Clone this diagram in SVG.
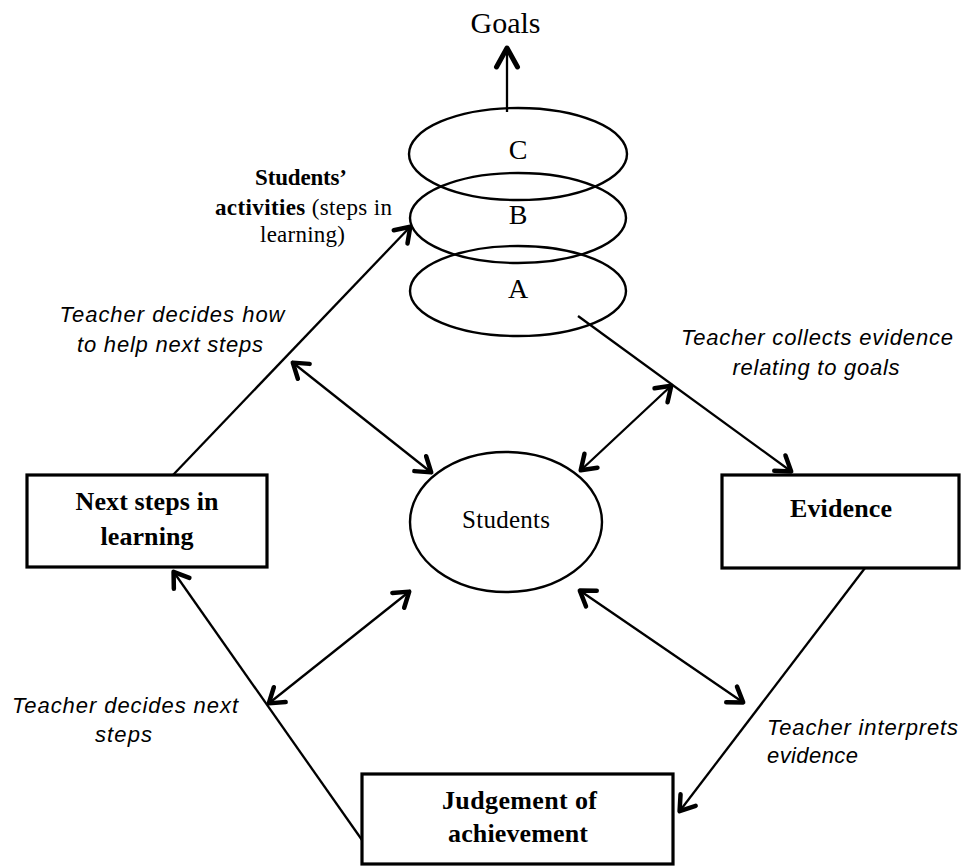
<svg xmlns="http://www.w3.org/2000/svg" width="962" height="866" viewBox="0 0 962 866">
  <style>
    .serif { font-family: "Liberation Serif", "Times New Roman", serif; fill: #000; }
    .bold { font-weight: bold; }
    .note { font-family: "Liberation Sans", Arial, sans-serif; font-style: italic; font-size: 22px; fill: #000; }
    .box { fill: #fff; stroke: #000; stroke-width: 3.2; }
    .ring { fill: none; stroke: #000; stroke-width: 2.4; }
    .flow { fill: none; stroke: #000; stroke-width: 2.3; }
    .one { marker-end: url(#head); }
    .two { marker-start: url(#head); marker-end: url(#head); }
    .up { marker-end: url(#bighead); }
  </style>
  <defs>
    <marker id="head" markerUnits="userSpaceOnUse" viewBox="-20 -15 30 30" markerWidth="30" markerHeight="30" refX="1" refY="0" orient="auto-start-reverse" overflow="visible">
      <path d="M -14 -9.5 L 0 0 L -14 9.5" fill="none" stroke="#000" stroke-width="4.5" stroke-linecap="round" stroke-linejoin="round"/>
    </marker>
    <marker id="bighead" markerUnits="userSpaceOnUse" viewBox="-30 -15 40 30" markerWidth="40" markerHeight="30" refX="1" refY="0" orient="auto" overflow="visible">
      <path d="M -19 -10.5 L 0 0 L -19 10.5" fill="none" stroke="#000" stroke-width="5" stroke-linecap="round" stroke-linejoin="round"/>
    </marker>
  </defs>
  <rect width="962" height="866" fill="#fff"/>

  <!-- connectors -->
  <g id="connectors">
    <line class="flow up" x1="507" y1="112" x2="507" y2="47" stroke-width="3.2"/>
    <line class="flow one" x1="173" y1="475" x2="411" y2="226"/>
    <line class="flow one" x1="578" y1="316" x2="792" y2="472"/>
    <line class="flow one" x1="865" y1="568" x2="679" y2="812"/>
    <line class="flow one" x1="362" y1="840" x2="173" y2="571"/>
    <line class="flow two" x1="292" y1="362" x2="432" y2="473"/>
    <line class="flow two" x1="672" y1="385" x2="580" y2="471"/>
    <line class="flow two" x1="410" y1="591" x2="268" y2="704"/>
    <line class="flow two" x1="579" y1="590" x2="744" y2="703"/>
  </g>

  <!-- goal stack -->
  <g id="goals">
    <text class="serif" x="505.5" y="33" font-size="30" text-anchor="middle">Goals</text>
  </g>
  <g id="level-c">
    <ellipse class="ring" cx="518" cy="154" rx="109" ry="46"/>
    <text class="serif" x="518" y="159" font-size="28" text-anchor="middle">C</text>
  </g>
  <g id="level-b">
    <ellipse class="ring" cx="518" cy="218" rx="108" ry="45"/>
    <text class="serif" x="518" y="224" font-size="28" text-anchor="middle">B</text>
  </g>
  <g id="level-a">
    <ellipse class="ring" cx="518" cy="291" rx="108" ry="45"/>
    <text class="serif" x="518" y="298" font-size="28" text-anchor="middle">A</text>
  </g>

  <g id="activities">
    <text class="serif bold" x="301" y="185" font-size="23" text-anchor="middle" textLength="92">Students’</text>
    <text class="serif" x="303.5" y="215" font-size="23" text-anchor="middle" textLength="177"><tspan class="bold">activities</tspan> (steps in</text>
    <text class="serif" x="302.5" y="242" font-size="23" text-anchor="middle" textLength="85">learning)</text>
  </g>

  <g id="students">
    <ellipse cx="506" cy="522" rx="96" ry="70" fill="#fff" stroke="#000" stroke-width="2.4"/>
    <text class="serif" x="506" y="528" font-size="25" text-anchor="middle" textLength="88">Students</text>
  </g>

  <g id="next-steps">
    <rect class="box" x="27" y="475" width="240" height="92"/>
    <text class="serif bold" x="147" y="510" font-size="26" text-anchor="middle" textLength="143">Next steps in</text>
    <text class="serif bold" x="147" y="545" font-size="26" text-anchor="middle" textLength="93">learning</text>
  </g>

  <g id="evidence">
    <rect class="box" x="722" y="475" width="237" height="93"/>
    <text class="serif bold" x="841" y="517" font-size="26" text-anchor="middle" textLength="102">Evidence</text>
  </g>

  <g id="judgement">
    <rect class="box" x="362" y="774" width="311" height="90"/>
    <text class="serif bold" x="519.5" y="809" font-size="26" text-anchor="middle" textLength="155">Judgement of</text>
    <text class="serif bold" x="518" y="842" font-size="26" text-anchor="middle" textLength="140">achievement</text>
  </g>

  <!-- teacher notes -->
  <g id="note-help">
    <text class="note" x="172" y="322" text-anchor="middle" textLength="225">Teacher decides how</text>
    <text class="note" x="170" y="352" text-anchor="middle" textLength="186">to help next steps</text>
  </g>
  <g id="note-collect">
    <text class="note" x="817" y="345" text-anchor="middle" textLength="272">Teacher collects evidence</text>
    <text class="note" x="816" y="375" text-anchor="middle" textLength="167">relating to goals</text>
  </g>
  <g id="note-decide">
    <text class="note" x="125" y="713" text-anchor="middle" textLength="226">Teacher decides next</text>
    <text class="note" x="123.5" y="742" text-anchor="middle" textLength="57">steps</text>
  </g>
  <g id="note-interpret">
    <text class="note" x="767" y="735" textLength="191">Teacher interprets</text>
    <text class="note" x="767" y="763" textLength="91">evidence</text>
  </g>
</svg>
